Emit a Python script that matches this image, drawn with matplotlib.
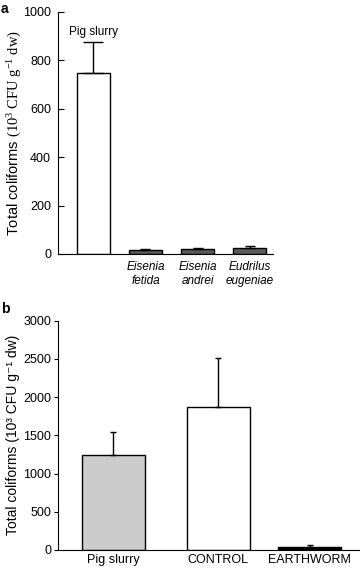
import numpy as np
import matplotlib.pyplot as plt

plt.rcParams['font.family'] = ['Liberation Sans', 'DejaVu Sans']
plt.rcParams['mathtext.fontset'] = 'custom'
plt.rcParams['mathtext.rm'] = 'Liberation Serif'
plt.rcParams['mathtext.it'] = 'Liberation Serif:italic'

# panel a
a_labels = ['', 'Eisenia\nfetida', 'Eisenia\nandrei', 'Eudrilus\neugeniae']
a_means = [748, 17, 19, 26]
a_errs = [128, 4, 4, 6]
a_colors = ['white', '#5a5a5a', '#5a5a5a', '#5a5a5a']

# panel b
b_labels = ['Pig slurry', 'CONTROL', 'EARTHWORM']
b_means = [1245, 1865, 45]
b_errs = [305, 650, 25]
b_colors = ['#cccccc', 'white', 'black']
b_pos = [0, 1, 1.87]

ylab_a = r'Total coliforms $(10^3\ \mathrm{CFU\ g^{-1}\ dw})$'
ylab_b = 'Total coliforms (10\u00b3 CFU g\u207b\u00b9 dw)'

fig = plt.figure(figsize=(3.6, 5.68), dpi=100)

ax1 = fig.add_axes([58/360, 1-254/568, 215/360, 242/568])
xa = np.arange(len(a_means))
ax1.bar(xa, a_means, width=0.62, color=a_colors, edgecolor='black', linewidth=1)
ax1.errorbar(xa[:1], a_means[:1], yerr=[[0], a_errs[:1]], fmt='none',
             ecolor='black', elinewidth=1, capsize=7, capthick=1)
ax1.errorbar(xa[1:], a_means[1:], yerr=[[0]*3, a_errs[1:]], fmt='none',
             ecolor='black', elinewidth=1, capsize=3.5, capthick=1)
ax1.text(0, 917, 'Pig slurry', ha='center', va='center', fontsize=8.5)
ax1.set_xlim(-0.68, 3.45)
ax1.set_ylim(0, 1000)
ax1.set_yticks(range(0, 1001, 200))
ax1.set_xticks(xa)
ax1.set_xticklabels(a_labels, fontsize=8.5, style='italic', linespacing=1.25)
ax1.tick_params(axis='x', length=0, pad=5)
ax1.tick_params(axis='y', direction='in', length=4, width=0.8, labelsize=9, pad=5)
ax1.spines[['top', 'right']].set_visible(False)
ax1.set_ylabel(ylab_a, fontsize=10.5)
ax1.yaxis.set_label_coords(-0.16, 0.5)
fig.text(0.003, 0.997, 'a', fontsize=10, fontweight='bold', va='top')

ax2 = fig.add_axes([58/360, 1-550/568, 302/360, 229.3/568])
ax2.bar(b_pos, b_means, width=0.6, color=b_colors, edgecolor='black', linewidth=1)
ax2.errorbar(b_pos, b_means, yerr=[[0]*3, b_errs], fmt='none',
             ecolor='black', elinewidth=1, capsize=2.2, capthick=1)
ax2.set_xlim(-0.524, 2.35)
ax2.set_ylim(0, 3000)
ax2.set_yticks(range(0, 3001, 500))
ax2.set_xticks(b_pos)
ax2.set_xticklabels(b_labels, fontsize=9)
ax2.tick_params(axis='x', length=0, pad=3)
ax2.tick_params(axis='y', direction='out', length=3, width=0.8, labelsize=9, pad=2)
ax2.spines[['top', 'right']].set_visible(False)
ax2.set_ylabel(ylab_b, fontsize=10)
ax2.yaxis.set_label_coords(-0.125, 0.5)
fig.text(0.003, 1-302/568, 'b', fontsize=10, fontweight='bold', va='top')

fig.savefig('out.png', dpi=100)
